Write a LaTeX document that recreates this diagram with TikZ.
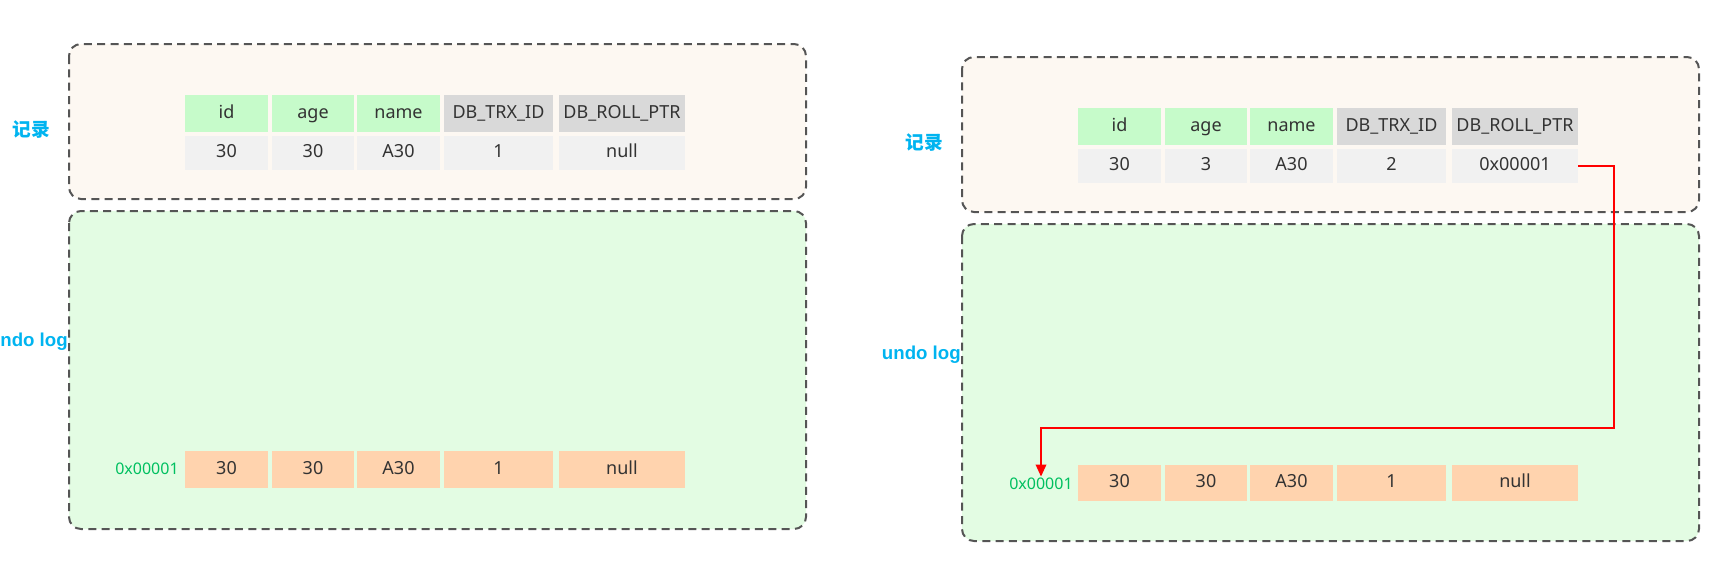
\documentclass[tikz,border=0pt]{standalone}
\usepackage{fontspec}
\setmainfont{Noto Sans}
\newfontfamily\cjkfont{Noto Sans CJK SC}
\newfontfamily\labfont{Liberation Sans}
\usetikzlibrary{arrows.meta}
\definecolor{txtgray}{HTML}{333333}
\definecolor{hdrgreen}{HTML}{C6FBCA}
\definecolor{hdrgray}{HTML}{D9D9D9}
\definecolor{rowgray}{HTML}{F1F1F1}
\definecolor{undopeach}{HTML}{FFD3AE}
\definecolor{topfill}{HTML}{FDF8F2}
\definecolor{botfill}{HTML}{E3FCE3}
\definecolor{borderc}{HTML}{555555}
\definecolor{labcyan}{HTML}{00B4F0}
\definecolor{addrgreen}{HTML}{00C060}
\newcommand\cellnode[7]{\node[cellbase,#6,minimum width={(#4-#2)*0.75pt},minimum height={(#5-#3)*0.75pt}] (#1) at ({(#2+#4)/2},{(#3+#5)/2}) {#7};}
\tikzset{
  cellbase/.style={inner sep=0pt,text=txtgray,font=\fontsize{13.5}{16}\selectfont,text height=10pt,text depth=3pt},
  hg/.style={fill=hdrgreen},
  hy/.style={fill=hdrgray},
  rg/.style={fill=rowgray},
  up/.style={fill=undopeach},
  panel/.style={draw=borderc,line width=1.5pt,dash pattern=on 6pt off 4pt,rounded corners=9pt},
  sidelabel/.style={text=labcyan,font=\fontsize{14}{16}\selectfont\bfseries,inner sep=0pt},
  addr/.style={text=addrgreen,font=\fontsize{12}{14}\selectfont,inner sep=0pt},
  ptr/.style={draw=red,line width=1pt,-{Triangle[length=9pt,width=8pt]}}
}
\begin{document}
\begin{tikzpicture}[x=0.75pt,y=-0.75pt]
\useasboundingbox (0,0) rectangle (1724,578);
% ---------- left panel ----------
\filldraw[panel,fill=topfill] (69,44) rectangle (806,199);
\filldraw[panel,fill=botfill] (69,211) rectangle (806,529);
\node[sidelabel] (Lrec) at (31,130) {\cjkfont\bfseries 记录};
\node[sidelabel,anchor=east] (Lundo) at (68,342) {\labfont\bfseries undo log};
\cellnode{Lh1}{185}{95}{268}{132}{hg}{id}
\cellnode{Lh2}{272}{95}{354}{132}{hg}{age}
\cellnode{Lh3}{357}{95}{440}{132}{hg}{name}
\cellnode{Lh4}{444}{95}{553}{132}{hy}{DB\_TRX\_ID}
\cellnode{Lh5}{559}{95}{685}{132}{hy}{DB\_ROLL\_PTR}
\cellnode{Ld1}{185}{136}{268}{170}{rg}{30}
\cellnode{Ld2}{272}{136}{354}{170}{rg}{30}
\cellnode{Ld3}{357}{136}{440}{170}{rg}{A30}
\cellnode{Ld4}{444}{136}{553}{170}{rg}{1}
\cellnode{Ld5}{559}{136}{685}{170}{rg}{null}
\cellnode{Lu1}{185}{451}{268}{488}{up}{30}
\cellnode{Lu2}{272}{451}{354}{488}{up}{30}
\cellnode{Lu3}{357}{451}{440}{488}{up}{A30}
\cellnode{Lu4}{444}{451}{553}{488}{up}{1}
\cellnode{Lu5}{559}{451}{685}{488}{up}{null}
\node[addr] (Laddr) at (147,469) {0x00001};
% ---------- right panel ----------
\filldraw[panel,fill=topfill] (962,57) rectangle (1699,212);
\filldraw[panel,fill=botfill] (962,224) rectangle (1699,541);
\node[sidelabel] (Rrec) at (924,143) {\cjkfont\bfseries 记录};
\node[sidelabel,anchor=east] (Rundo) at (961,355) {\labfont\bfseries undo log};
\cellnode{Rh1}{1078}{108}{1161}{145}{hg}{id}
\cellnode{Rh2}{1165}{108}{1247}{145}{hg}{age}
\cellnode{Rh3}{1250}{108}{1333}{145}{hg}{name}
\cellnode{Rh4}{1337}{108}{1446}{145}{hy}{DB\_TRX\_ID}
\cellnode{Rh5}{1452}{108}{1578}{145}{hy}{DB\_ROLL\_PTR}
\cellnode{Rd1}{1078}{149}{1161}{183}{rg}{30}
\cellnode{Rd2}{1165}{149}{1247}{183}{rg}{3}
\cellnode{Rd3}{1250}{149}{1333}{183}{rg}{A30}
\cellnode{Rd4}{1337}{149}{1446}{183}{rg}{2}
\cellnode{Rd5}{1452}{149}{1578}{183}{rg}{0x00001}
\cellnode{Ru1}{1078}{465}{1161}{501}{up}{30}
\cellnode{Ru2}{1165}{465}{1247}{501}{up}{30}
\cellnode{Ru3}{1250}{465}{1333}{501}{up}{A30}
\cellnode{Ru4}{1337}{465}{1446}{501}{up}{1}
\cellnode{Ru5}{1452}{465}{1578}{501}{up}{null}
\node[addr] (Raddr) at (1041,484) {0x00001};
% pointer
\draw[ptr] (Rd5.east) -- (1614,166) -- (1614,428) -- (1041,428) -- ([yshift=1pt]Raddr.north);
\end{tikzpicture}
\end{document}
